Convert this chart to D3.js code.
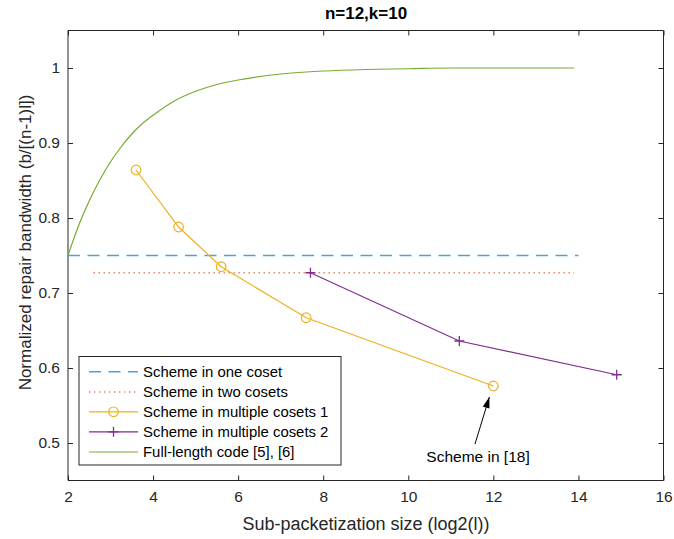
<!DOCTYPE html>
<html><head><meta charset="utf-8">
<script src="https://cdn.jsdelivr.net/npm/d3@7/dist/d3.min.js"></script>
<style>body{margin:0;background:#fff}svg{display:block;font-family:"Liberation Sans",Arial,sans-serif}</style>
</head><body><svg id="c" width="674" height="539"></svg>
<script>
const title = "n=12,k=10";
const xLabel = "Sub-packetization size (log2(l))";
const yLabel = "Normalized repair bandwidth (b/[(n-1)l])";
const xTicks = [2,4,6,8,10,12,14,16];
const yTicks = [0.5,0.6,0.7,0.8,0.9,1];
const yTickLabels = ["0.5","0.6","0.7","0.8","0.9","1"];
const seriesNames = ["Scheme in one coset","Scheme in two cosets","Scheme in multiple cosets 1","Scheme in multiple cosets 2","Full-length code [5], [6]"];
const oneCosetX = [2, 14];
const oneCosetY = [0.75, 0.75];
const twoCosetX = [2.6, 13.9];
const twoCosetY = [0.727, 0.727];
const multi1X = [3.6, 4.6, 5.6, 7.6, 12];
const multi1Y = [0.864, 0.788, 0.735, 0.667, 0.576];
const multi2X = [7.7, 11.2, 14.9];
const multi2Y = [0.727, 0.636, 0.591];
const fullX = [2, 2.25, 2.5, 2.75, 3, 3.25, 3.5, 3.75, 4, 4.5, 5, 5.5, 6, 7, 8, 9, 10, 11, 12, 13, 13.9];
const fullY = [0.75, 0.79, 0.823, 0.851, 0.875, 0.895, 0.912, 0.926, 0.937, 0.956, 0.969, 0.978, 0.984, 0.992, 0.996, 0.998, 0.999, 1.0, 1.0, 1.0, 1.0];
const annText = "Scheme in [18]";

const svg = d3.select("#c");
const L = 68, R = 663.5, T = 30.5, B = 480.5;
const x = d3.scaleLinear().domain([2,16]).range([L,R]);
const y = d3.scaleLinear().domain([0.45,1.05]).range([B,T]);
const axisCol = "#262626";
const colors = ["#4f9fd8","#e8825c","#edb120","#7e2f8e","#77ac30"];

// axes
const gx = svg.append("g").attr("transform",`translate(0,${B})`)
  .call(d3.axisBottom(x).tickValues(xTicks).tickSize(-5).tickPadding(10).tickFormat(d3.format("d")));
const gxt = svg.append("g").attr("transform",`translate(0,${T})`)
  .call(d3.axisTop(x).tickValues(xTicks).tickSize(-5).tickFormat(""));
const gy = svg.append("g").attr("transform",`translate(${L},0)`)
  .call(d3.axisLeft(y).tickValues(yTicks).tickSize(-5).tickPadding(8).tickFormat((d,i)=>yTickLabels[i]));
const gyr = svg.append("g").attr("transform",`translate(${R},0)`)
  .call(d3.axisRight(y).tickValues(yTicks).tickSize(-5).tickFormat(""));
[gx,gxt,gy,gyr].forEach(g=>{
  g.selectAll("path,line").attr("stroke",axisCol).attr("stroke-width",1);
  g.selectAll("text").attr("fill",axisCol).attr("font-size",15.5).attr("font-family","Liberation Sans, Arial, sans-serif");
});
gx.select(".domain").attr("d",`M${L},0H${R}`);
gxt.select(".domain").attr("d",`M${L},0H${R}`);
gy.select(".domain").attr("d",`M0,${T}V${B}`);
gyr.select(".domain").attr("d",`M0,${T}V${B}`);

const line = d3.line().x(d=>x(d[0])).y(d=>y(d[1]));
const zip = (a,b)=>a.map((v,i)=>[v,b[i]]);

// full-length curve
svg.append("path").attr("d",d3.line().x(d=>x(d[0])).y(d=>y(d[1])).curve(d3.curveMonotoneX)(zip(fullX,fullY)))
  .attr("fill","none").attr("stroke",colors[4]).attr("stroke-width",1.2);
// one coset
svg.append("path").attr("d",line(zip(oneCosetX,oneCosetY))).attr("fill","none")
  .attr("stroke",colors[0]).attr("stroke-width",1.5).attr("stroke-dasharray","12,7.5");
// two cosets
svg.append("path").attr("d",line(zip(twoCosetX,twoCosetY))).attr("fill","none")
  .attr("stroke",colors[1]).attr("stroke-width",1.3).attr("stroke-dasharray","1.4,3.6");
// multi 1
svg.append("path").attr("d",line(zip(multi1X,multi1Y))).attr("fill","none")
  .attr("stroke",colors[2]).attr("stroke-width",1.2);
svg.selectAll(".m1").data(zip(multi1X,multi1Y)).join("circle")
  .attr("cx",d=>x(d[0])).attr("cy",d=>y(d[1])).attr("r",4.8)
  .attr("fill","none").attr("stroke",colors[2]).attr("stroke-width",1.2);
// multi 2
svg.append("path").attr("d",line(zip(multi2X,multi2Y))).attr("fill","none")
  .attr("stroke",colors[3]).attr("stroke-width",1.2);
const plus = (g,cx,cy,s,col)=>{
  g.append("path").attr("d",`M${cx-s},${cy}H${cx+s}M${cx},${cy-s}V${cy+s}`)
   .attr("stroke",col).attr("stroke-width",1.3).attr("fill","none");
};
zip(multi2X,multi2Y).forEach(d=>plus(svg,x(d[0]),y(d[1]),5,colors[3]));

// annotation
const tip = [x(multi1X[4]) - 4, y(multi1Y[4]) + 11];
const tail = [475, 444];
svg.append("line").attr("x1",tail[0]).attr("y1",tail[1]).attr("x2",tip[0]).attr("y2",tip[1])
  .attr("stroke","#000").attr("stroke-width",1);
{
  const ang = Math.atan2(tip[1]-tail[1], tip[0]-tail[0]);
  const len = 11, w = 3.5;
  const bx = tip[0]-len*Math.cos(ang), by = tip[1]-len*Math.sin(ang);
  const px = -Math.sin(ang)*w, py = Math.cos(ang)*w;
  svg.append("path").attr("d",`M${tip[0]},${tip[1]}L${bx+px},${by+py}L${bx-px},${by-py}Z`).attr("fill","#000");
}
svg.append("text").attr("x",478).attr("y",462).attr("text-anchor","middle")
  .attr("font-size",15.5).attr("fill","#000").text(annText);

// legend
const lg = svg.append("g");
lg.append("rect").attr("x",79).attr("y",356.5).attr("width",262).attr("height",108.5)
  .attr("fill","#fff").attr("stroke",axisCol).attr("stroke-width",1);
const rowY = [371.7, 392, 411.8, 431.8, 452];
seriesNames.forEach((nm,i)=>{
  const yy = rowY[i];
  const l = lg.append("line").attr("x1",89).attr("x2",138).attr("y1",yy).attr("y2",yy)
    .attr("stroke",colors[i]).attr("stroke-width",[1.5,1.3,1.2,1.2,1.2][i]);
  if(i===0) l.attr("stroke-dasharray","12,7.5");
  if(i===1) l.attr("stroke-dasharray","1.4,3.6");
  if(i===2) lg.append("circle").attr("cx",113.5).attr("cy",yy).attr("r",4.8).attr("fill","none").attr("stroke",colors[2]).attr("stroke-width",1.2);
  if(i===3) plus(lg,113.5,yy,5,colors[3]);
  lg.append("text").attr("x",143).attr("y",yy+5.3).attr("font-size",14.9).attr("fill","#000").text(nm);
});

// title & labels
svg.append("text").attr("x",366).attr("y",19).attr("text-anchor","middle")
  .attr("font-size",17).attr("font-weight","bold").attr("fill","#000").text(title);
svg.append("text").attr("x",366).attr("y",529.5).attr("text-anchor","middle")
  .attr("font-size",18).attr("fill",axisCol).text(xLabel);
svg.append("text").attr("transform",`translate(31,242.5) rotate(-90)`).attr("text-anchor","middle")
  .attr("font-size",17).attr("fill",axisCol).text(yLabel);
</script></body></html>
